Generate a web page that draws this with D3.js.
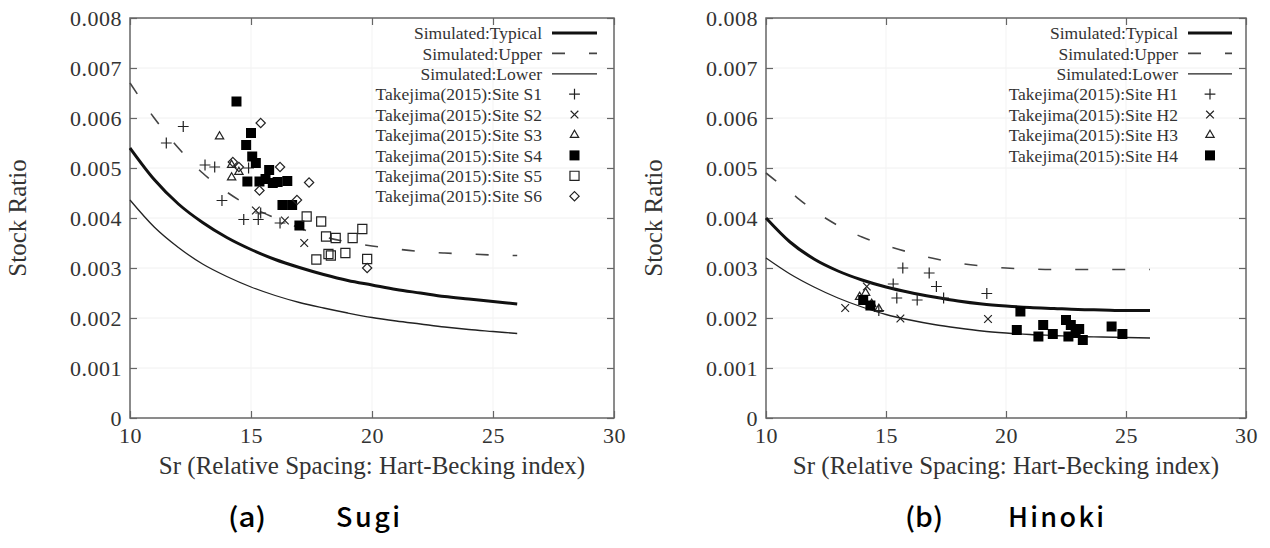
<!DOCTYPE html>
<html>
<head>
<meta charset="utf-8">
<script src="https://cdn.jsdelivr.net/npm/d3@7"></script>
<style>
  body { margin: 0; background: #fff; }
  svg { display: block; }
</style>
</head>
<body>
<svg id="chart" width="1270" height="548"></svg>
<script>
// Sr values where the simulated curves were read off
var srGrid = [10, 11, 12, 13, 14, 15, 16, 17, 18, 19, 20, 21, 22, 23, 24, 25, 26];

// (a) Sugi - simulated stock ratio
var sugiTypical = [0.00540, 0.00477, 0.00428, 0.00391, 0.00361, 0.00337, 0.00317, 0.00301, 0.00287, 0.00275, 0.00266, 0.00257, 0.00250, 0.00243, 0.00238, 0.00233, 0.00228];
var sugiUpper   = [0.00670, 0.00600, 0.00540, 0.00490, 0.00452, 0.00422, 0.00400, 0.00380, 0.00363, 0.00352, 0.00344, 0.00338, 0.00333, 0.00330, 0.00328, 0.00326, 0.00325];
var sugiLower   = [0.00436, 0.00382, 0.00341, 0.00308, 0.00283, 0.00262, 0.00245, 0.00231, 0.00220, 0.00210, 0.00201, 0.00194, 0.00188, 0.00182, 0.00177, 0.00173, 0.00169];

// (a) Sugi - observed sites [Sr, stock ratio]
var sugiS1 = [[11.5, 0.00550], [12.2, 0.00583], [13.1, 0.00506], [13.5, 0.00502], [13.8, 0.00435], [14.7, 0.00397], [15.3, 0.00397], [15.4, 0.00410], [16.2, 0.00390], [14.9, 0.00500]];
var sugiS2 = [[15.2, 0.00415], [16.4, 0.00395], [17.2, 0.00350]];
var sugiS3 = [[13.7, 0.00563], [14.2, 0.00506], [14.2, 0.00481], [14.5, 0.00492]];
var sugiS4 = [[14.4, 0.00633], [15.0, 0.00570], [14.8, 0.00546], [15.05, 0.00523], [15.2, 0.00510], [15.75, 0.00496], [14.85, 0.00473], [15.35, 0.00473], [15.9, 0.00470], [16.5, 0.00474], [16.3, 0.00426], [16.7, 0.00426], [17.0, 0.00385], [15.6, 0.00478], [16.1, 0.00472]];
var sugiS5 = [[17.3, 0.00403], [17.9, 0.00393], [18.1, 0.00363], [18.5, 0.00360], [19.2, 0.00360], [19.6, 0.00378], [17.7, 0.00317], [18.2, 0.00328], [18.9, 0.00330], [19.8, 0.00318], [18.3, 0.00325]];
var sugiS6 = [[15.4, 0.00590], [14.5, 0.00502], [16.2, 0.00502], [15.35, 0.00455], [17.4, 0.00471], [16.9, 0.00436], [19.8, 0.00300], [14.25, 0.00512]];

// (b) Hinoki - simulated stock ratio
var hinokiTypical = [0.00400, 0.00352, 0.00318, 0.00294, 0.00276, 0.00262, 0.00251, 0.00242, 0.00234, 0.00228, 0.00224, 0.00221, 0.00219, 0.00217, 0.00216, 0.00215, 0.00215];
var hinokiUpper   = [0.00490, 0.00452, 0.00415, 0.00385, 0.00362, 0.00345, 0.00331, 0.00319, 0.00310, 0.00304, 0.00300, 0.00298, 0.00297, 0.00297, 0.00297, 0.00297, 0.00297];
var hinokiLower   = [0.00320, 0.00288, 0.00262, 0.00240, 0.00222, 0.00207, 0.00196, 0.00187, 0.00180, 0.00174, 0.00170, 0.00167, 0.00165, 0.00163, 0.00162, 0.00161, 0.00160];

// (b) Hinoki - observed sites
var hinokiH1 = [[15.7, 0.00300], [16.8, 0.00290], [17.1, 0.00263], [15.45, 0.00240], [16.3, 0.00236], [17.4, 0.00240], [19.2, 0.00249], [15.3, 0.00268], [14.7, 0.00215]];
var hinokiH2 = [[13.3, 0.00220], [14.2, 0.00263], [15.6, 0.00199], [19.25, 0.00198]];
var hinokiH3 = [[13.9, 0.00242], [14.15, 0.00250], [14.4, 0.00228], [14.7, 0.00218]];
var hinokiH4 = [[14.05, 0.00236], [14.35, 0.00225], [20.6, 0.00213], [20.45, 0.00176], [21.55, 0.00186], [21.35, 0.00163], [21.95, 0.00168], [22.5, 0.00196], [22.7, 0.00186], [22.6, 0.00163], [23.05, 0.00178], [23.2, 0.00156], [24.4, 0.00183], [24.85, 0.00168], [22.9, 0.00170]];

// legend text
var curveLabels = ["Simulated:Typical", "Simulated:Upper", "Simulated:Lower"];
var sugiSiteLabels = ["Takejima(2015):Site S1", "Takejima(2015):Site S2", "Takejima(2015):Site S3", "Takejima(2015):Site S4", "Takejima(2015):Site S5", "Takejima(2015):Site S6"];
var hinokiSiteLabels = ["Takejima(2015):Site H1", "Takejima(2015):Site H2", "Takejima(2015):Site H3", "Takejima(2015):Site H4"];

// axes
var xTicks = [10, 15, 20, 25, 30];
var yTicks = [0, 0.001, 0.002, 0.003, 0.004, 0.005, 0.006, 0.007, 0.008];
var yTickLabels = ["0", "0.001", "0.002", "0.003", "0.004", "0.005", "0.006", "0.007", "0.008"];
var xTitle = "Sr (Relative Spacing: Hart-Becking index)";
var yTitle = "Stock Ratio";

var SERIF = '"Liberation Serif", "Times New Roman", "DejaVu Serif", serif';
var svg = d3.select("#chart");

// line styles for typical / upper / lower
var curveStyle = [
    {width: 3, dash: null, color: "#111"},
    {width: 1.6, dash: "13,24", color: "#444"},
    {width: 1.3, dash: null, color: "#222"}
];

// marker styles in the order of the site series
var markerStyle = [
    {type: d3.symbolPlus || d3.symbolCross, size: 40, fill: false},
    {type: d3.symbolTimes || d3.symbolX, size: 40, fill: false},
    {type: d3.symbolTriangle2 || d3.symbolTriangle, size: 50, fill: false},
    {type: d3.symbolSquare, size: 100, fill: true},
    {type: d3.symbolSquare2 || d3.symbolSquare, size: 105, fill: false},
    {type: d3.symbolDiamond2 || d3.symbolDiamond, size: 55, fill: false}
];

function drawPanel(opt) {
    var g = svg.append("g");
    var x = d3.scaleLinear().domain([10, 30]).range([opt.left, opt.right]);
    var y = d3.scaleLinear().domain([0, 0.008]).range([418, 18]);

    // faint grid
    g.append("g").selectAll("line").data(yTicks.slice(1, -1)).join("line")
        .attr("x1", opt.left).attr("x2", opt.right)
        .attr("y1", d => y(d)).attr("y2", d => y(d))
        .attr("stroke", "#f0f0f0").attr("stroke-width", 1);
    g.append("g").selectAll("line").data(xTicks.slice(1, -1)).join("line")
        .attr("x1", d => x(d)).attr("x2", d => x(d))
        .attr("y1", 18).attr("y2", 418)
        .attr("stroke", "#f3f3f3").attr("stroke-width", 1);

    // axes, ticks pointing inward on all four sides
    var xb = g.append("g").attr("transform", "translate(0,418)")
        .call(d3.axisBottom(x).tickValues(xTicks).tickSizeInner(-7).tickSizeOuter(0).tickPadding(9));
    var yl = g.append("g").attr("transform", "translate(" + opt.left + ",0)")
        .call(d3.axisLeft(y).tickValues(yTicks).tickSizeInner(-7).tickSizeOuter(0).tickPadding(8)
            .tickFormat((d, i) => yTickLabels[i]));
    var xt = g.append("g").attr("transform", "translate(0,18)")
        .call(d3.axisTop(x).tickValues(xTicks).tickSizeInner(-7).tickSizeOuter(0).tickFormat(""));
    var yr = g.append("g").attr("transform", "translate(" + opt.right + ",0)")
        .call(d3.axisRight(y).tickValues(yTicks).tickSizeInner(-7).tickSizeOuter(0).tickFormat(""));
    [xb, yl, xt, yr].forEach(function (a) {
        a.select(".domain").remove();
        a.selectAll(".tick line").attr("stroke", "#666").attr("stroke-width", 1.2);
        a.selectAll("text").style("font-family", SERIF).style("font-size", "22px")
            .attr("fill", "#333").attr("letter-spacing", 0.5);
    });

    // frame
    g.append("rect").attr("x", opt.left).attr("y", 18)
        .attr("width", opt.right - opt.left).attr("height", 400)
        .attr("fill", "none").attr("stroke", "#666").attr("stroke-width", 1.5);

    // simulated curves
    var line = d3.line().x((d, i) => x(srGrid[i])).y(d => y(d)).curve(d3.curveMonotoneX);
    opt.curves.forEach(function (c, i) {
        var s = curveStyle[i];
        g.append("path").datum(c).attr("d", line)
            .attr("fill", "none").attr("stroke", s.color).attr("stroke-width", s.width)
            .attr("stroke-dasharray", s.dash);
    });

    // observed sites
    opt.sites.forEach(function (pts, i) {
        var m = markerStyle[i];
        var sym = d3.symbol().type(m.type).size(m.size);
        g.append("g").selectAll("path").data(pts).join("path")
            .attr("transform", d => "translate(" + x(d[0]) + "," + y(d[1]) + ")")
            .attr("d", sym)
            .attr("fill", m.fill ? "#000" : "none")
            .attr("stroke", m.fill ? "none" : "#222")
            .attr("stroke-width", 1.2);
    });

    // legend
    var leg = g.append("g");
    var rowY = i => 33 + i * 20.4;
    function legText(t, i) {
        leg.append("text").attr("x", opt.legText).attr("y", rowY(i)).attr("dy", "0.35em")
            .attr("text-anchor", "end").attr("fill", "#333")
            .style("font-family", SERIF).style("font-size", "17.5px").text(t);
    }
    curveLabels.forEach(function (t, i) {
        legText(t, i);
        var s = curveStyle[i];
        leg.append("line").attr("x1", opt.legLine[0]).attr("x2", opt.legLine[1])
            .attr("y1", rowY(i)).attr("y2", rowY(i))
            .attr("stroke", s.color).attr("stroke-width", s.width).attr("stroke-dasharray", s.dash);
    });
    opt.siteLabels.forEach(function (t, j) {
        legText(t, j + 3);
        var m = markerStyle[j];
        leg.append("path")
            .attr("transform", "translate(" + (opt.legLine[0] + opt.legLine[1]) / 2 + "," + rowY(j + 3) + ")")
            .attr("d", d3.symbol().type(m.type).size(m.size))
            .attr("fill", m.fill ? "#000" : "none")
            .attr("stroke", m.fill ? "none" : "#222").attr("stroke-width", 1.2);
    });

    // axis titles
    g.append("text").attr("x", (opt.left + opt.right) / 2).attr("y", 474)
        .attr("text-anchor", "middle").attr("fill", "#333")
        .style("font-family", SERIF).style("font-size", "25px").text(xTitle);
    g.append("text").attr("transform", "translate(" + (opt.left - 104) + ",218) rotate(-90)")
        .attr("text-anchor", "middle").attr("fill", "#333")
        .style("font-family", SERIF).style("font-size", "25px").text(yTitle);

    // caption
    var capFont = '"Noto Sans CJK JP", "Noto Sans", sans-serif';
    g.append("text").attr("x", opt.capA).attr("y", 527).attr("textLength", 38)
        .attr("lengthAdjust", "spacingAndGlyphs").attr("fill", "#000")
        .style("font-family", capFont).style("font-size", "27px").style("font-weight", 500)
        .text(opt.capLetter);
    g.append("text").attr("x", opt.capB).attr("y", 527).attr("textLength", opt.capWidth)
        .attr("lengthAdjust", "spacing").attr("fill", "#000")
        .style("font-family", capFont).style("font-size", "27px").style("font-weight", 500)
        .text(opt.capName);
}

drawPanel({
    left: 130, right: 614,
    curves: [sugiTypical, sugiUpper, sugiLower],
    sites: [sugiS1, sugiS2, sugiS3, sugiS4, sugiS5, sugiS6],
    siteLabels: sugiSiteLabels,
    legText: 542, legLine: [552, 597],
    capLetter: "(a)", capName: "Sugi", capA: 228, capB: 336, capWidth: 64
});

drawPanel({
    left: 766, right: 1246,
    curves: [hinokiTypical, hinokiUpper, hinokiLower],
    sites: [hinokiH1, hinokiH2, hinokiH3, hinokiH4],
    siteLabels: hinokiSiteLabels,
    legText: 1178, legLine: [1188, 1232],
    capLetter: "(b)", capName: "Hinoki", capA: 905, capB: 1008, capWidth: 96
});
</script>
</body>
</html>
